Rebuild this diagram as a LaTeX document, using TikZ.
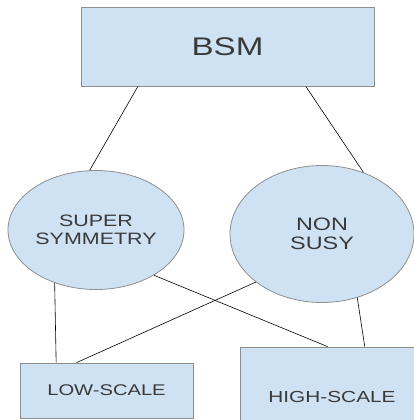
\documentclass[tikz,border=0pt]{standalone}
\usepackage{fontspec}
\setmainfont[FakeStretch=1.3]{Liberation Sans}
\usetikzlibrary{shapes.geometric}
\definecolor{boxfill}{HTML}{CFE2F3}
\definecolor{boxline}{HTML}{8E8E8E}
\definecolor{boxtext}{HTML}{3A3A3A}

\begin{document}
\begin{tikzpicture}[x=1pt,y=-1pt,box/.style={rectangle,draw=boxline,fill=boxfill,text=boxtext,inner sep=0pt,line width=0.8pt},oval/.style={ellipse,draw=boxline,fill=boxfill,text=boxtext,inner sep=0pt,align=center,line width=0.8pt},link/.style={black,line width=0.6pt}]
\useasboundingbox (0,0) rectangle (414,420);
\node(bsm)[box,minimum width=293pt,minimum height=79pt,font=\fontsize{25.5}{30}\selectfont] at (227.5,46.5) {BSM};
\node(susy)[oval,minimum width=176pt,minimum height=119pt,font=\fontsize{16.5}{18.4}\selectfont] at (96,230) {SUPER\\SYMMETRY};
\node(nonsusy)[oval,minimum width=184pt,minimum height=137pt,font=\fontsize{18}{18.4}\selectfont] at (322,234) {NON\\SUSY};
\node(low)[box,minimum width=173pt,minimum height=55pt,font=\fontsize{15.5}{18}\selectfont] at (106.5,390.5) {LOW-SCALE};
\node(high)[box,minimum width=184pt,minimum height=100pt,font=\fontsize{16}{18}\selectfont] at (332,397) {HIGH-SCALE};
\draw[link] (bsm.-156.4) -- (susy.96.9);
\draw[link] (bsm.-27.6) -- (nonsusy.56.1);
\draw[link] (susy.-128) -- (low.151.9);
\draw[link] (susy.-38) -- (high.95.7);
\draw[link] (nonsusy.-144.6) -- (low.137);
\draw[link] (nonsusy.-61.4) -- (high.57.4);
\end{tikzpicture}
\end{document}
